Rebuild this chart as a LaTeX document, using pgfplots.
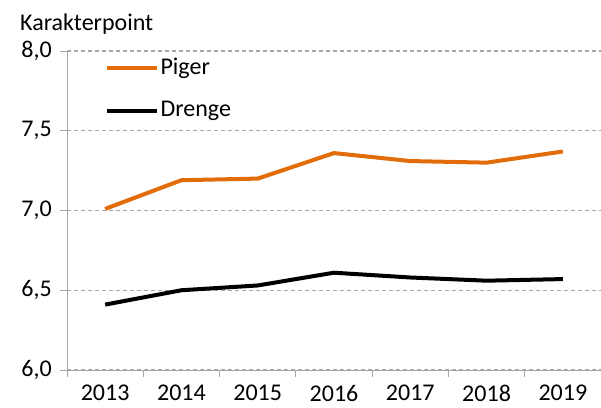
\documentclass[border=0pt]{standalone}
\usepackage{fontspec}
\setmainfont{Carlito}
\usepackage{pgfplots}
\pgfplotsset{compat=1.18}

\definecolor{piger}{RGB}{227,108,10}
\definecolor{axisgray}{RGB}{166,166,166}

\begin{document}
\fontsize{24}{28}\selectfont
\begin{tikzpicture}[x=1pt,y=1pt]
\begin{axis}[
  at={(67pt,37pt)}, anchor=south west,
  scale only axis,
  width=534pt, height=319pt,
  xmin=-0.5, xmax=6.5,
  ymin=6, ymax=8,
  axis x line*=bottom, axis y line*=left,
  axis line style={axisgray, line width=1pt, -},
  xtick={0,...,6},
  xticklabels={2013,2014,2015,2016,2017,2018,2019},
  major x tick style={draw=none},
  minor xtick={-0.5,0.5,1.5,2.5,3.5,4.5,5.5},
  minor tick length=7pt,
  minor x tick style={axisgray, line width=1pt},
  ytick={6,6.5,7,7.5,8},
  y tick style={axisgray, line width=1pt},
  tick align=outside,
  major tick length=7pt,
  ymajorgrids,
  major grid style={axisgray, line width=1.2pt, dash pattern=on 4pt off 3pt},
  yticklabel style={/pgf/number format/.cd, fixed, fixed zerofill, precision=1, use comma, assume math mode=true},
  xticklabel style={/pgf/number format/assume math mode=true},
  tick label style={font=\fontsize{24}{28}\selectfont},
  legend style={draw=none, fill=none, at={(0.07,0.985)}, anchor=north west,
    font=\fontsize{24}{28}\selectfont, row sep=19pt, inner sep=0pt},
  legend cell align=left,
  legend image code/.code={\draw[#1] (0pt,0pt) -- (50pt,0pt);},
  clip=false,
]
\addplot[piger, line width=4pt] coordinates {
  (0,7.01) (1,7.19) (2,7.20) (3,7.36) (4,7.31) (5,7.30) (6,7.37)};
\addplot[black, line width=4pt] coordinates {
  (0,6.41) (1,6.50) (2,6.53) (3,6.61) (4,6.58) (5,6.56) (6,6.57)};
\legend{Piger, Drenge}
\node[anchor=base west, inner sep=0pt, xshift=-47pt, yshift=21pt] at (rel axis cs:0,1) {Karakterpoint};
\end{axis}
\pgfresetboundingbox
\path (0,0) rectangle (601,407);
\end{tikzpicture}
\end{document}
